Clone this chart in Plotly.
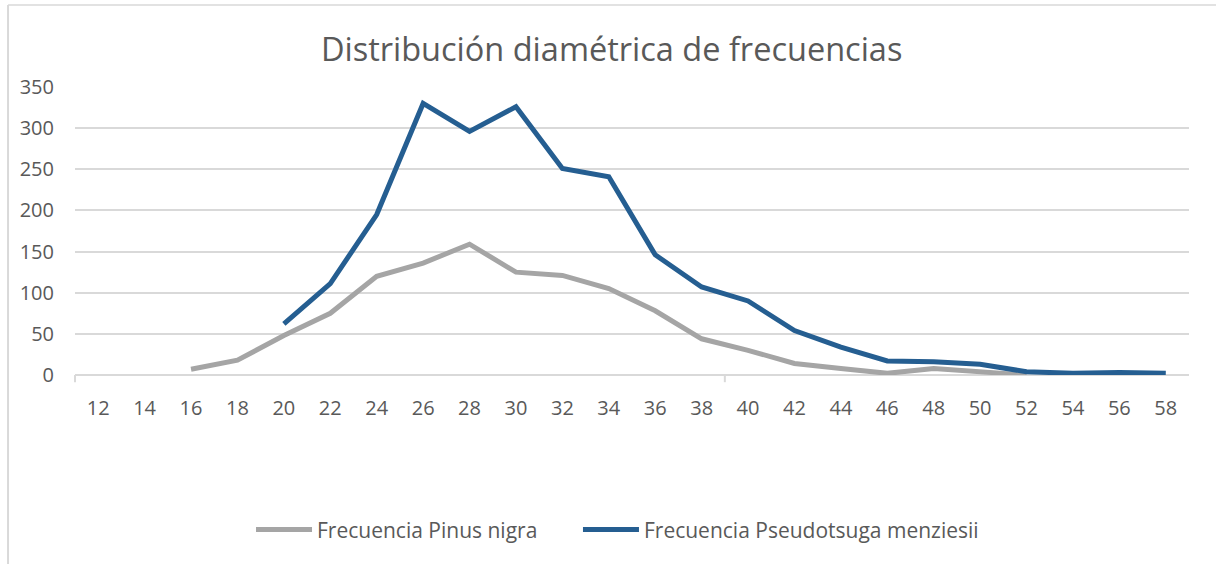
import plotly.graph_objects as go

diametros = [12, 14, 16, 18, 20, 22, 24, 26, 28, 30, 32, 34, 36, 38, 40, 42, 44, 46, 48, 50, 52, 54, 56, 58]
pinus_nigra = [None, None, 7, 18, 48, 75, 120, 136, 159, 125, 121, 105, 78, 44, 30, 14, 8, 2, 8, 4, 0, None, None, None]
pseudotsuga = [None, None, None, None, 62, 111, 195, 330, 296, 326, 251, 241, 146, 107, 90, 54, 34, 17, 16, 13, 4, 2, 3, 2]
y_ticks = [0, 50, 100, 150, 200, 250, 300, 350]

FONT = "Open Sans"
TXT = "#595959"
GRID = "#d9d9d9"

fig = go.Figure()
fig.add_trace(go.Scatter(x=diametros, y=pinus_nigra, mode="lines", name="Frecuencia Pinus nigra",
                         line=dict(color="#a5a5a5", width=5), connectgaps=False, legend="legend"))
fig.add_trace(go.Scatter(x=diametros, y=pseudotsuga, mode="lines", name="Frecuencia Pseudotsuga menziesii",
                         line=dict(color="#255e91", width=5), connectgaps=False, legend="legend2"))

leg_common = dict(orientation="h", xanchor="left", y=-0.538, yanchor="middle",
                  font=dict(family=FONT, size=21, color=TXT), itemwidth=56, bgcolor="rgba(0,0,0,0)")

fig.update_layout(
    width=1216, height=564,
    margin=dict(l=75, r=27, t=87, b=189),
    paper_bgcolor="white", plot_bgcolor="white",
    font=dict(family=FONT, color=TXT, size=20),
    title=dict(text="Distribución diamétrica de frecuencias", x=0.503, xref="container", xanchor="center",
               y=1 - 50 / 564, yref="container", yanchor="middle",
               font=dict(family=FONT, size=32.5, color=TXT)),
    showlegend=True,
    legend=dict(x=0.158, **leg_common),
    legend2=dict(x=0.4515, **leg_common),
    xaxis=dict(range=[11, 59], tickmode="array", tickvals=diametros, ticktext=[str(d) for d in diametros],
               showgrid=False, zeroline=False, showline=False, ticks="", ticklabelstandoff=19,
               tickfont=dict(size=20, color=TXT), fixedrange=True),
    yaxis=dict(range=[0, 350], tickmode="array", tickvals=y_ticks, showgrid=True, gridcolor=GRID, gridwidth=2,
               zeroline=True, zerolinecolor=GRID, zerolinewidth=2, showline=False, ticks="",
               ticklabelstandoff=20, tickfont=dict(size=20, color=TXT), fixedrange=True),
    shapes=[
        dict(type="line", xref="paper", yref="paper", x0=-0.0601, x1=1.03, y0=1.2847, y1=1.2847,
             line=dict(color=GRID, width=1.5)),
        dict(type="line", xref="paper", yref="paper", x0=-0.0601, x1=-0.0601, y0=1.2847, y1=-0.7,
             line=dict(color=GRID, width=2)),
        dict(type="line", xref="paper", yref="paper", x0=0.0, x1=0.0, y0=0.0, y1=-0.025,
             line=dict(color=GRID, width=2)),
        dict(type="line", xref="x", yref="paper", x0=39, x1=39, y0=0.0, y1=-0.025,
             line=dict(color=GRID, width=2)),
    ],
)

fig.write_html("out.html", config={"displayModeBar": False},
               post_script="document.body.style.margin='0';document.body.style.padding='0';")
